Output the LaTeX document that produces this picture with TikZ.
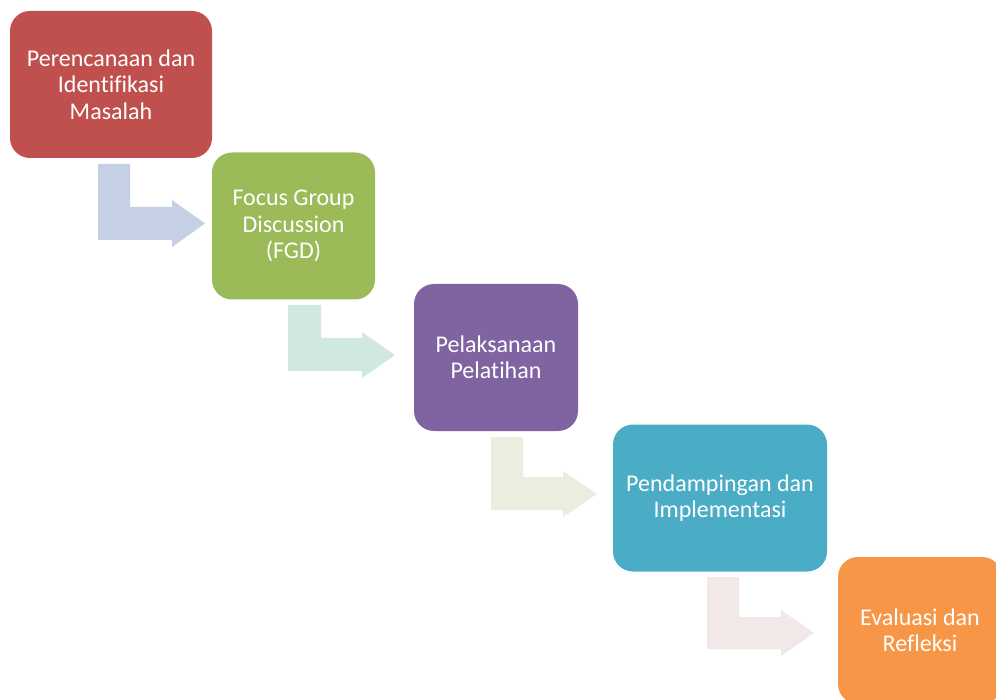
\documentclass[tikz,border=0pt]{standalone}
\usepackage{fontspec}
\setmainfont{Carlito}[Ligatures={NoCommon,NoContextual}]
\begin{document}
\begin{tikzpicture}[x=1pt,y=-1pt,
  box/.style={rounded corners=20pt, minimum width=#1, minimum height=147pt, inner sep=0pt,
    text=white, align=center, font=\fontsize{24}{26.5}\selectfont},
  bentarrow/.style={fill=#1, draw=none}]
\useasboundingbox (0,0) rectangle (996,700);
\clip (0,0) rectangle (996,700);
\definecolor{cRed}{HTML}{C0504D}
\definecolor{cGreen}{HTML}{9BBB59}
\definecolor{cPurple}{HTML}{8064A2}
\definecolor{cTeal}{HTML}{4BACC6}
\definecolor{cOrange}{HTML}{F79646}
\definecolor{aOne}{HTML}{C5D0E4}
\definecolor{aTwo}{HTML}{D0E8DD}
\definecolor{aThree}{HTML}{E9EEDF}
\definecolor{aFour}{HTML}{F3E8E8}
% bent arrows
\fill[bentarrow=aOne] (98,164) -- (130,164) -- (130,207) -- (172,207) -- (172,200) -- (205,223.5) -- (172,247) -- (172,240) -- (98,240) -- cycle;
\fill[bentarrow=aTwo] (288,305) -- (321,305) -- (321,338) -- (362,338) -- (362,332) -- (395,355) -- (362,378) -- (362,371) -- (288,371) -- cycle;
\fill[bentarrow=aThree] (491,437) -- (523,437) -- (523,477) -- (563,477) -- (563,471) -- (597,494) -- (563,517) -- (563,510) -- (491,510) -- cycle;
\fill[bentarrow=aFour] (707,577) -- (739,577) -- (739,617) -- (781,617) -- (781,610) -- (814,633) -- (781,656) -- (781,649) -- (707,649) -- cycle;
% boxes
\node[box=202pt, fill=cRed] (b1) at (111,84.5) {Perencanaan dan\\Identifikasi\\Masalah};
\node[box=163pt, fill=cGreen] (b2) at (293.5,226) {Focus Group\\Discussion\\(FGD)};
\node[box=164pt, fill=cPurple] (b3) at (496,357.5) {Pelaksanaan\\Pelatihan};
\node[box=214pt, fill=cTeal] (b4) at (720,498) {Pendampingan dan\\Implementasi};
\node[box=164pt, fill=cOrange] (b5) at (920,630.5) {Evaluasi dan\\Refleksi};
\end{tikzpicture}
\end{document}
